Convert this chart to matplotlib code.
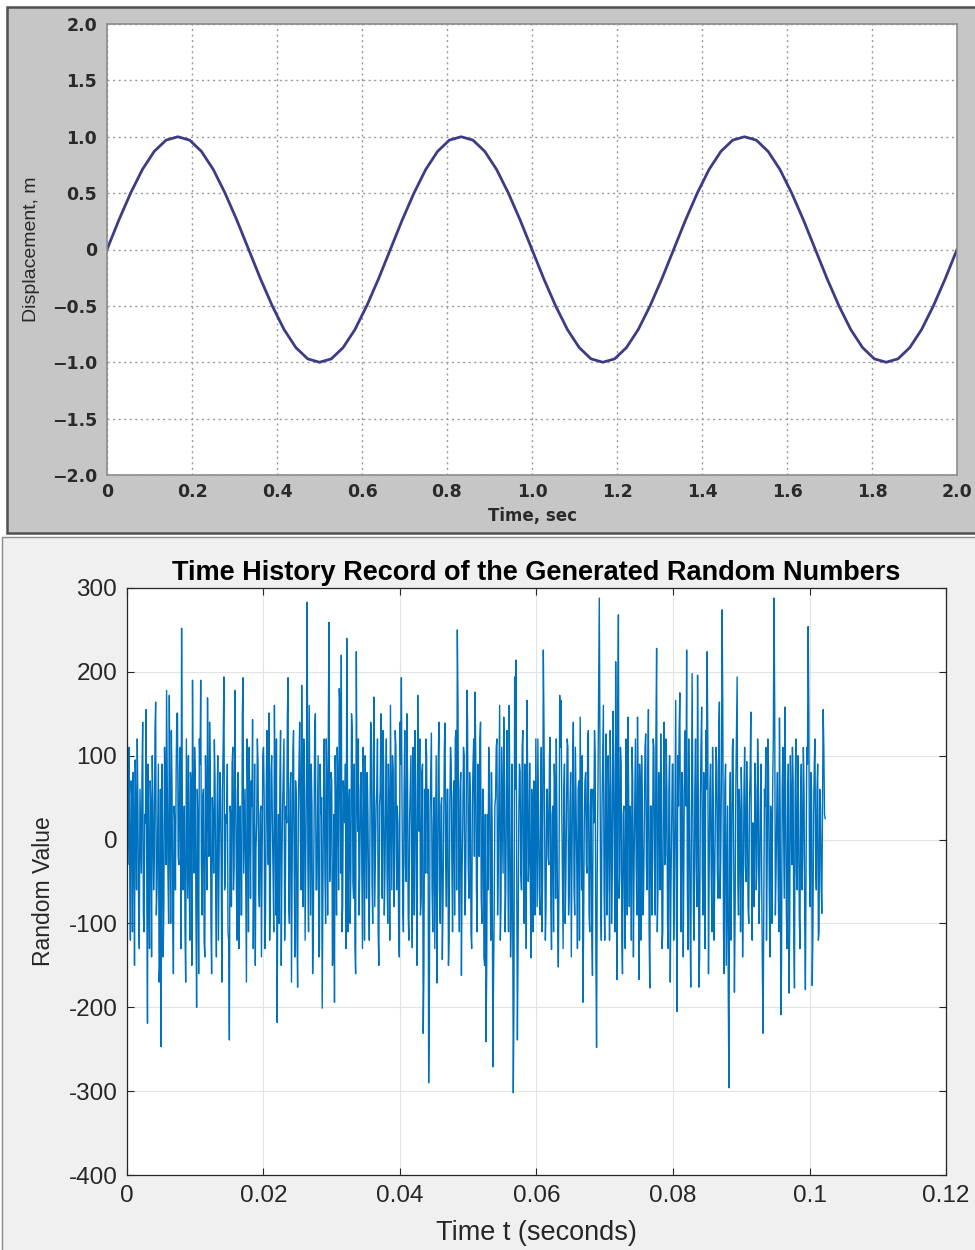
import numpy as np
import matplotlib
matplotlib.use("Agg")
import matplotlib.pyplot as plt
from matplotlib.patches import Rectangle

# ---- top panel: displacement record (24 samples per cycle)
disp_t_end = 2.0
disp = [0, 0.26, 0.50, 0.71, 0.87, 0.97, 1.0, 0.97, 0.87, 0.71, 0.50, 0.26,
        0, -0.26, -0.50, -0.71, -0.87, -0.97, -1.0, -0.97, -0.87, -0.71, -0.50, -0.26,
        0, 0.26, 0.50, 0.71, 0.87, 0.97, 1.0, 0.97, 0.87, 0.71, 0.50, 0.26,
        0, -0.26, -0.50, -0.71, -0.87, -0.97, -1.0, -0.97, -0.87, -0.71, -0.50, -0.26,
        0, 0.26, 0.50, 0.71, 0.87, 0.97, 1.0, 0.97, 0.87, 0.71, 0.50, 0.26,
        0, -0.26, -0.50, -0.71, -0.87, -0.97, -1.0, -0.97, -0.87, -0.71, -0.50, -0.26,
        0]
top_xticks = [0, 0.2, 0.4, 0.6, 0.8, 1.0, 1.2, 1.4, 1.6, 1.8, 2.0]
top_xlabels = ['0', '0.2', '0.4', '0.6', '0.8', '1.0', '1.2', '1.4', '1.6', '1.8', '2.0']
top_yticks = [-2.0, -1.5, -1.0, -0.5, 0, 0.5, 1.0, 1.5, 2.0]
top_ylabels = ['\u22122.0', '\u22121.5', '\u22121.0', '\u22120.5', '0', '0.5', '1.0', '1.5', '2.0']

# ---- bottom panel: random numbers, 10 kHz record
# even samples (t = 0, 0.2 ms, 0.4 ms, ...) carry the visible peaks
fs = 10000
rand_even = [
    265, 60, -40, 70, -110, 20, 95, -60, 40, -130, 10, 80, -90, 30, 155, -219,
    -50, 70, -140, 40, -20, 164, -60, 90, -150, -247, 20, -80, 60, 178, -40, 172,
    -100, 60, -160, 20, 80, 151, -30, 110, 252, -60, 40, -170, 30, 100, -120, 60,
    190, -40, 80, -200, 20, 120, 190, -90, 60, -140, 30, 169, -20, 90, -160, 10,
    119, -70, 40, -120, 80, -30, 60, 194, -50, 20, -110, -239, 30, 90, -60, 178,
    -20, 60, -130, 40, -90, 193, 10, -60, 120, -110, 30, 70, 143, -40, -150, 20,
    90, -80, 40, -20, 110, -130, 60, 10, 151, -70, 100, -40, 160, -90, -218, 30,
    70, -150, 40, 120, -60, 20, 193, -100, 80, -30, 130, -140, 50, -176, 90, 10,
    184, -80, 60, -20, 283, -110, 40, 90, -160, 20, 150, -60, 100, -130, 30, -201,
    60, -40, 120, -90, 259, -20, 70, -130, -194, 40, 110, -60, 160, 220, -80, 30,
    90, 240, -110, 60, -40, 130, -70, -129, 224, 10, -90, 60, -30, 110, -120, 40,
    80, -60, 20, 130, -100, 170, -20, 60, -110, 40, 150, -70, 90, -40, 120, -100,
    30, 160, -60, 80, -20, 110, 40, -105, 140, 193, -80, 60, -30, 150, -90, 20,
    100, -129, 40, 130, -60, 172, 10, -90, 80, -231, 60, 120, -40, -290, 30, 127,
    -110, 50, -20, -171, 90, -60, 40, -143, 20, 139, -80, 60, -120, 110, -30, 50,
    -90, 130, 250, -40, 60, -162, 20, 100, -70, 178, -30, 80, -110, 40, 120, 176,
    -60, 90, -20, 140, -100, 60, -150, -241, 30, 110, -40, 80, -271, -90, 50, 120,
    -30, 160, -80, 40, 146, -110, 60, -20, 160, -140, 90, -302, 194, 214, -239, 20,
    80, -60, 130, -100, 40, 166, -50, 91, -141, 30, 70, -90, 20, 120, -60, 40,
    -110, 226, 10, -80, 60, -30, 122, -131, 40, 90, -70, 20, -152, 172, 166, -40,
    60, -100, 30, 110, -60, 80, -20, 140, -90, 40, -130, 70, 146, -60, -194, 20,
    80, -40, 130, -110, 60, -162, 20, 100, -248, 60, 288, -80, 40, 160, -120, 126,
    -60, 30, 130, -100, 153, -20, 212, -167, 268, -40, 90, -160, 40, -130, 60, 146,
    -80, 20, 110, -140, 50, -30, 146, -167, 60, 100, -90, 30, 126, -60, 155, -177,
    40, -20, 110, -90, 228, -60, 40, 126, -130, 70, -30, 120, -100, 60, -170, 20,
    90, -60, 166, -205, 40, 175, -110, 60, -20, 130, 226, -131, 40, -176, 198, -90,
    60, -30, 196, -176, 40, 158, -90, 20, 130, 224, -160, 60, -40, 110, -120, 30,
    90, -70, 164, -20, 274, -110, 60, -150, 40, -296, 80, -30, 120, -182, 60, 194,
    -90, 20, 86, -140, 60, -30, 93, -80, 40, 152, -120, 10, 91, -60, 120, -100,
    40, -50, -231, 60, 110, -30, 80, -140, 20, 60, 288, -90, 30, -40, 145, -209,
    60, 20, 158, -80, 40, -183, 100, -30, 70, -177, 120, -60, 30, -130, 90, -20,
    60, -179, 110, 254, -40, 80, -174, 30, 120, -60, 90, -110, 40, -88, 155, 30,
]
# odd samples (t = 0.1 ms, 0.3 ms, ...) fill the dense band
rand_odd = [
    -30, 110, -120, 50, 80, -150, 30, 120, -80, 60, -40, 140, -110, 20, -60, 90,
    -130, 40, 100, -60, 130, -90, 20, -170, 60, 90, -140, 110, -30, 60, -100, 20,
    130, -90, 40, -60, 150, -20, 90, -130, 60, 10, -110, 120, -70, -30, 80, -150,
    40, 110, -90, 60, -160, 90, -30, 50, -120, 100, -60, 30, 140, -100, 50, -40,
    70, -140, 100, -20, 60, -170, 120, -60, 30, 90, -120, 40, -80, 110, -30, 60,
    -120, 80, 20, -90, 150, -40, 60, -170, 30, 110, -70, 40, -130, 90, -10, 120,
    -60, 30, -140, 100, 50, -90, 130, -30, -120, 80, 20, -110, 60, 120, -40, -100,
    130, -30, 80, -120, 40, 150, -80, 60, -170, 100, -40, 70, -110, 30, 140, -60,
    40, 120, -120, 80, -30, 160, -90, 40, -110, 130, -60, 20, -140, 90, 50, -80,
    120, -100, 60, 140, -50, 80, -150, 30, 100, -90, 60, 180, -40, -110, 70, 20,
    -130, 80, 40, -100, 150, -50, 90, -160, 60, 120, -40, 80, -130, 30, 100, -70,
    30, -120, 140, -50, 90, -80, 40, 120, -150, 60, -20, 130, -90, 50, -40, 90,
    -120, 50, 100, -80, 130, -60, 20, -140, 90, 40, -110, 130, -50, 80, -120, 60,
    -40, 110, -90, 60, -150, 30, 120, -70, 90, -160, -40, 100, 60, -200, 80, -60,
    20, -130, 100, -60, 140, -100, 50, -80, 110, -30, 60, -150, 40, 90, -110, 70,
    120, -60, 160, -110, 80, -40, 110, -90, 30, 140, -70, 50, -130, 90, -20, 100,
    -110, 40, 120, -70, 60, -140, 30, -160, -60, 80, -120, 20, -170, 40, 110, -90,
    60, -120, 110, -40, 90, -60, 130, -110, 30, -90, -60, -190, 60, -40, -130, 90,
    -40, 110, -60, 90, -130, 80, -20, -60, 60, -110, 40, 120, -80, 30, -90, 110,
    -40, 130, -120, 60, -20, 100, -80, 30, -110, 60, 120, -100, -40, 110, 40, -130,
    90, -50, 120, -90, 40, -140, 90, -60, 110, -30, 60, -120, 40, 100, -110, 70,
    -30, 120, -90, 40, -110, 60, 130, -140, -40, 180, 90, -120, 100, -60, 50, -90,
    100, -120, 60, -40, 90, -110, 60, 150, -70, 110, -120, 30, -80, 120, -90, 60,
    40, -120, 70, -30, 120, -90, 50, 90, -120, 40, -60, 110, -30, 80, -110, 40,
    -90, 120, -40, 130, -110, 80, -60, 30, -110, 140, -20, 60, -130, 100, -60, 90,
    -120, 60, -90, 100, 130, -30, 80, -140, 120, 40, -60, 120, -100, 30, 60, -120,
    120, -80, 60, -140, 110, -40, 80, -130, 60, 120, -40, 90, -110, 40, -60, 110,
    -40, 130, -70, 80, 150, -160, 90, -60, -190, 30, -120, 110, -40, -90, 130, -50,
    60, -110, 40, -60, 110, -50, 30, -100, 80, -40, 20, -80, 60, -30, 70, -60,
    90, -160, -80, 40, -120, 120, -60, 40, -100, 120, 160, -40, 80, -110, 30, -150,
    110, -70, 60, -130, 90, -100, 40, 110, -120, 60, -40, 100, -90, 50, -60, 110,
    -100, -40, 90, 150, -80, 60, -110, 90, -30, 60, -120, 60, -50, 40, 110, 25,
]
bot_xticks = [0, 0.02, 0.04, 0.06, 0.08, 0.1, 0.12]
bot_xlabels = ['0', '0.02', '0.04', '0.06', '0.08', '0.1', '0.12']
bot_yticks = [-400, -300, -200, -100, 0, 100, 200, 300]
bot_ylabels = ['-400', '-300', '-200', '-100', '0', '100', '200', '300']

W, H = 975, 1250
fig = plt.figure(figsize=(W / 100, H / 100), dpi=100)
fig.patch.set_facecolor('white')

# panel backgrounds
fig.patches.append(Rectangle((7 / W, 1 - 533 / H), 1 - 7 / W + 0.01, 526 / H,
                             transform=fig.transFigure, facecolor='#c6c6c6',
                             edgecolor='#505050', lw=1.8, zorder=-5))
fig.patches.append(Rectangle((2 / W, -0.01), 1, 1 - 537 / H + 0.01,
                             transform=fig.transFigure, facecolor='#f0f0f0',
                             edgecolor='#8a8a8a', lw=1.0, zorder=-5))

# ---------------- top
ax1 = fig.add_axes([107 / W, 1 - 475 / H, 850 / W, 451 / H])
t1 = np.linspace(0, disp_t_end, len(disp))
ax1.plot(t1, disp, color='#3c3c86', lw=2.0)
ax1.set_xlim(0, 2.0)
ax1.set_ylim(-2.0, 2.0)
ax1.set_xticks(top_xticks)
ax1.set_xticklabels(top_xlabels)
ax1.set_yticks(top_yticks)
ax1.set_yticklabels(top_ylabels)
ax1.grid(True, ls=(0, (1.5, 2.5)), color='#9a9a9a', lw=1.0)
ax1.tick_params(axis='y', length=0, pad=7, labelsize=12.5, labelcolor='#2a2a2a')
ax1.tick_params(axis='x', length=0, pad=6, labelsize=12.5, labelcolor='#2a2a2a')
for lab in ax1.get_xticklabels() + ax1.get_yticklabels():
    lab.set_fontweight('bold')
for sp in ax1.spines.values():
    sp.set_color('#8c8c8c')
    sp.set_linewidth(1.2)
ax1.set_xlabel('Time, sec', fontsize=12, fontweight='bold', color='#2a2a2a')
ax1.xaxis.set_label_coords(0.5, -0.07)
ax1.set_ylabel('Displacement, m', fontsize=14,
               family=['Liberation Sans Narrow', 'Liberation Sans', 'DejaVu Sans'],
               color='#2a2a2a')
ax1.yaxis.set_label_coords(-0.079, 0.5)

# ---------------- bottom
narrow = ['Liberation Sans Narrow', 'Liberation Sans', 'DejaVu Sans']
rand_vals = np.empty(len(rand_even) + len(rand_odd))
rand_vals[0::2] = rand_even
rand_vals[1::2] = rand_odd

ax2 = fig.add_axes([127 / W, 1 - 1175 / H, 819 / W, 587 / H])
t2 = np.arange(len(rand_vals)) / fs
ax2.plot(t2, rand_vals, color='#0072bd', lw=1.0)
ax2.set_xlim(0, 0.12)
ax2.set_ylim(-400, 300)
ax2.set_xticks(bot_xticks)
ax2.set_xticklabels(bot_xlabels, family=narrow)
ax2.set_yticks(bot_yticks)
ax2.set_yticklabels(bot_ylabels, family=narrow)
ax2.grid(True, color='#e3e3e3', lw=0.8)
ax2.set_axisbelow(True)
ax2.tick_params(direction='in', length=5, width=0.8, color='#262626',
                top=True, right=True, labelsize=17.5, labelcolor='#262626', pad=7)
for sp in ax2.spines.values():
    sp.set_color('#262626')
    sp.set_linewidth(0.9)
ax2.set_title('Time History Record of the Generated Random Numbers',
              fontsize=19.5, fontweight='bold', family=narrow, color='#000000', pad=6)
ax2.set_xlabel('Time t (seconds)', fontsize=19.5, family=narrow, color='#262626')
ax2.xaxis.set_label_coords(0.5, -0.077)
ax2.set_ylabel('Random Value', fontsize=16.5, family=narrow, color='#262626')
ax2.yaxis.set_label_coords(-0.088, 0.483)

fig.savefig('out.png', dpi=100, facecolor=fig.get_facecolor())
